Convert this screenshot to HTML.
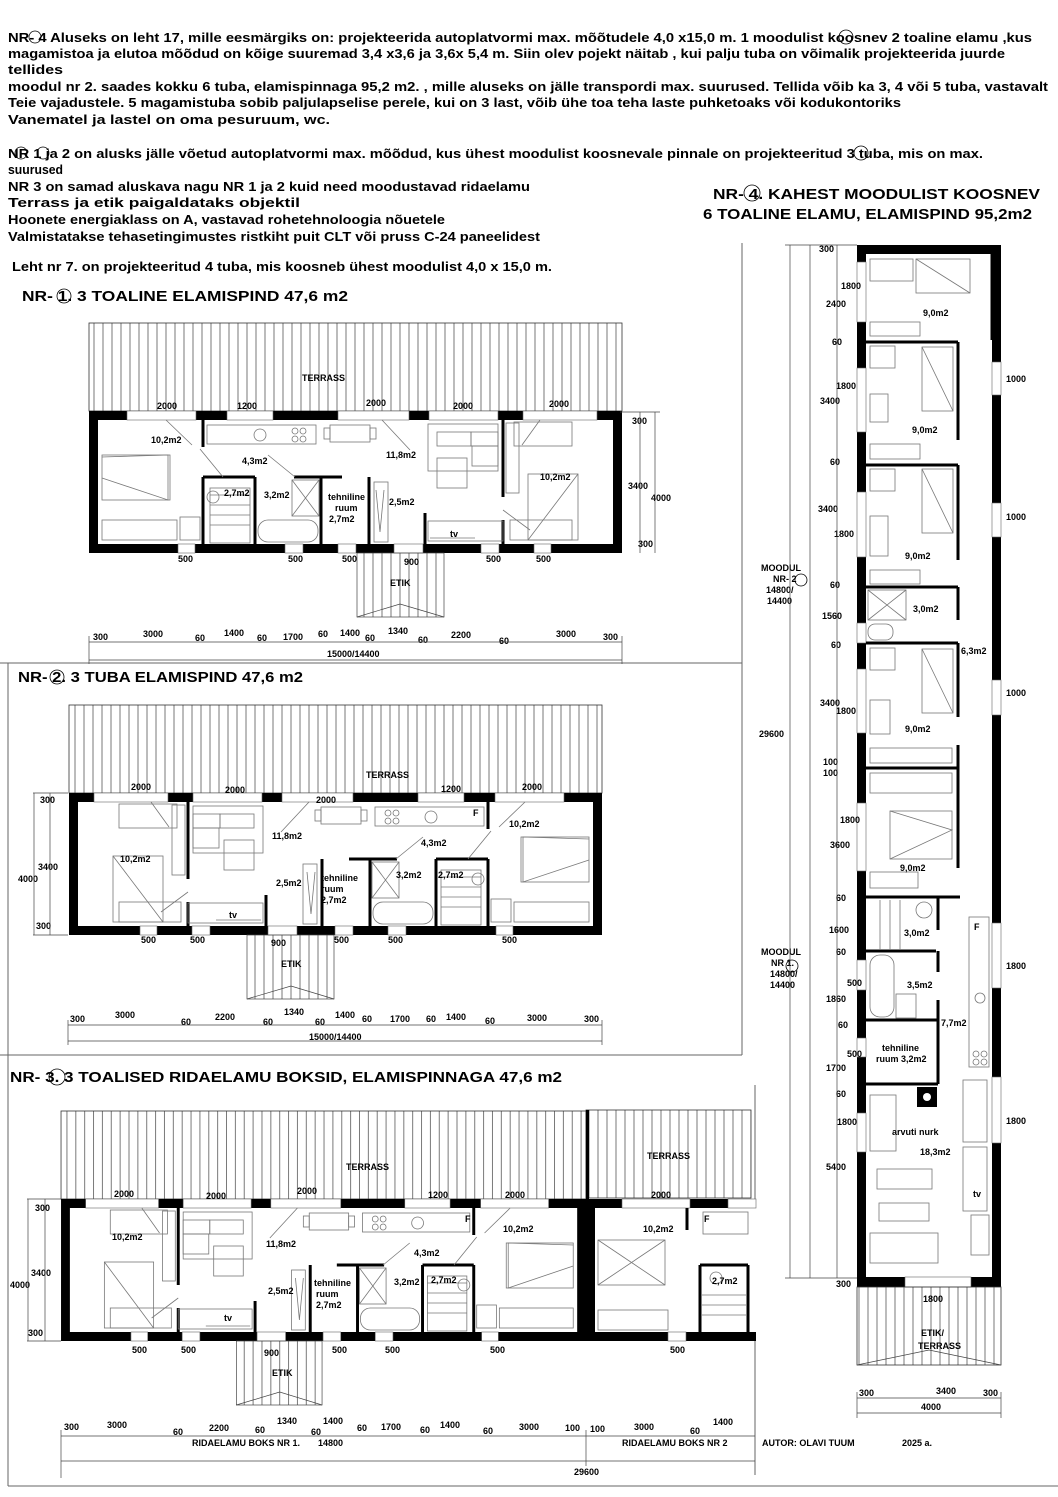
<!DOCTYPE html>
<html><head><meta charset="utf-8"><style>
html,body{margin:0;padding:0;background:#fff;}
svg{display:block;}
text{font-family:"Liberation Sans",Arial,sans-serif;font-weight:bold;fill:#000;}
.s{font-size:9px;}
.t{font-size:13px;}
.h{font-size:15px;}
.f{fill:none;stroke:#777;stroke-width:0.8;}
.w{fill:#000;}
.dl{stroke:#444;stroke-width:0.7;fill:none;}
</style></head><body>
<svg width="1058" height="1497" viewBox="0 0 1058 1497" xmlns="http://www.w3.org/2000/svg">
<defs>
<pattern id="hatch" width="9" height="10" patternUnits="userSpaceOnUse">
<line x1="4" y1="0" x2="4" y2="10" stroke="#555" stroke-width="0.8"/>
</pattern>
<g id="p1">
 <rect x="89" y="323" width="533" height="88" fill="url(#hatch)" stroke="#333" stroke-width="0.8"/>
 <rect x="89" y="411" width="533" height="142" class="w"/>
 <rect x="98" y="420" width="515" height="124" fill="#fff"/>
 <g fill="#fff" stroke="#666" stroke-width="0.6">
  <rect x="127" y="411" width="69" height="9"/><rect x="227" y="411" width="46" height="9"/>
  <rect x="338" y="411" width="71" height="9"/><rect x="429" y="411" width="69" height="9"/>
  <rect x="523" y="411" width="74" height="9"/>
  <rect x="178" y="544" width="17" height="9"/><rect x="285" y="544" width="18" height="9"/>
  <rect x="338" y="544" width="18" height="9"/><rect x="394" y="544" width="29" height="9"/>
  <rect x="481" y="544" width="18" height="9"/><rect x="534" y="544" width="17" height="9"/>
 </g>
 <g stroke="#000" stroke-width="3">
  <line x1="203" y1="420" x2="203" y2="447"/><line x1="203" y1="477" x2="203" y2="544"/>
  <line x1="203" y1="477" x2="255" y2="477"/><line x1="294" y1="477" x2="342" y2="477"/>
  <line x1="255" y1="477" x2="255" y2="544"/><line x1="321" y1="477" x2="321" y2="544"/>
  <line x1="369" y1="477" x2="369" y2="544"/><line x1="425" y1="513" x2="425" y2="544"/>
  <line x1="503" y1="420" x2="503" y2="497"/><line x1="503" y1="520" x2="503" y2="544"/>
 </g>
 <g class="f">
  <rect x="207" y="425" width="109" height="19"/><circle cx="260" cy="435" r="6"/>
  <circle cx="295" cy="431" r="3"/><circle cx="303" cy="431" r="3"/><circle cx="295" cy="439" r="3"/><circle cx="303" cy="439" r="3"/>
  <rect x="330" y="425" width="40" height="17"/><rect x="324" y="428" width="6" height="11"/><rect x="370" y="428" width="6" height="11"/>
  <rect x="428" y="424" width="70" height="47"/><rect x="437" y="432" width="34" height="14"/><rect x="471" y="432" width="27" height="14"/>
  <rect x="437" y="458" width="30" height="30"/><rect x="472" y="446" width="26" height="20"/>
  <rect x="102" y="455" width="68" height="45"/><polyline points="102,457 168,455 168,500 102,478"/>
  <rect x="102" y="520" width="75" height="20"/><rect x="180" y="517" width="20" height="23"/>
  <rect x="210" y="488" width="40" height="55"/>
  <line x1="210" y1="495" x2="250" y2="495"/><line x1="210" y1="505" x2="250" y2="505"/><line x1="210" y1="515" x2="250" y2="515"/><line x1="210" y1="525" x2="250" y2="525"/>
  <rect x="258" y="520" width="60" height="22" rx="10"/><rect x="292" y="480" width="27" height="36"/>
  <line x1="292" y1="480" x2="319" y2="516"/><line x1="319" y1="480" x2="292" y2="516"/>
  <rect x="374" y="482" width="14" height="60"/><path d="M376,490 l4,42 l4,-42" />
  <rect x="428" y="521" width="75" height="20"/><line x1="430" y1="538" x2="475" y2="538"/>
  <rect x="506" y="423" width="13" height="70"/><rect x="514" y="422" width="58" height="24"/>
  <rect x="528" y="474" width="50" height="66"/><line x1="528" y1="540" x2="578" y2="474"/>
  <rect x="510" y="520" width="62" height="20"/>
  <circle cx="213" cy="497" r="6"/>
 </g>
 <g class="f"><line x1="166" y1="420" x2="192" y2="445"/><line x1="200" y1="449" x2="223" y2="477"/><line x1="268" y1="455" x2="295" y2="477"/><line x1="382" y1="420" x2="410" y2="450"/><line x1="522" y1="445" x2="540" y2="420"/><line x1="503" y1="510" x2="530" y2="530"/></g>
 <rect x="357" y="553" width="87" height="64" fill="url(#hatch)" stroke="#444" stroke-width="0.7"/>
 <polyline points="357,617 400,604 444,617" fill="none" stroke="#444" stroke-width="0.7"/>
</g>
</defs>

<g stroke="#666" stroke-width="1" fill="none">
 <line x1="742" y1="243" x2="742" y2="663"/>
 <line x1="0" y1="663" x2="742" y2="663"/>
 <line x1="8" y1="663" x2="8" y2="1486"/>
 <line x1="742" y1="663" x2="742" y2="1055"/>
 <line x1="0" y1="1055" x2="742" y2="1055"/>
 <line x1="8" y1="1486" x2="1058" y2="1486"/>
 <line x1="755" y1="1085" x2="755" y2="1475"/>
</g>

<g class="t">
<text x="8" y="42" textLength="1024" lengthAdjust="spacingAndGlyphs">NR- 4 Aluseks on leht 17, mille eesmärgiks on: projekteerida autoplatvormi max. mõõtudele 4,0 x15,0 m.  1 moodulist koosnev 2 toaline  elamu ,kus</text>
<text x="8" y="58" textLength="997" lengthAdjust="spacingAndGlyphs">magamistoa ja elutoa mõõdud on kõige suuremad 3,4 x3,6 ja 3,6x 5,4 m. Siin olev pojekt  näitab , kui palju tuba on võimalik projekteerida juurde</text>
<text x="8" y="74" textLength="55" lengthAdjust="spacingAndGlyphs">tellides</text>
<text x="8" y="91" textLength="1040" lengthAdjust="spacingAndGlyphs">moodul nr 2. saades kokku 6 tuba, elamispinnaga 95,2 m2. , mille aluseks on jälle transpordi max. suurused. Tellida võib ka 3, 4 või 5 tuba, vastavalt</text>
<text x="8" y="107" textLength="893" lengthAdjust="spacingAndGlyphs">Teie vajadustele.  5 magamistuba sobib paljulapselise perele, kui on 3 last, võib ühe toa teha laste puhketoaks või kodukontoriks</text>
<text x="8" y="124" textLength="322" lengthAdjust="spacingAndGlyphs">Vanematel ja lastel on oma pesuruum, wc.</text>
<text x="8" y="158" textLength="975" lengthAdjust="spacingAndGlyphs">NR 1 ja 2 on alusks jälle võetud  autoplatvormi max. mõõdud, kus ühest moodulist koosnevale pinnale on projekteeritud 3 tuba, mis on max.</text>
<text x="8" y="174" textLength="55" lengthAdjust="spacingAndGlyphs">suurused</text>
<text x="8" y="191" textLength="522" lengthAdjust="spacingAndGlyphs">NR 3 on samad aluskava nagu NR 1 ja 2 kuid need moodustavad ridaelamu</text>
<text x="8" y="207" textLength="292" lengthAdjust="spacingAndGlyphs">Terrass ja etik paigaldataks objektil</text>
<text x="8" y="224" textLength="437" lengthAdjust="spacingAndGlyphs">Hoonete energiaklass on A, vastavad rohetehnoloogia nõuetele</text>
<text x="8" y="241" textLength="532" lengthAdjust="spacingAndGlyphs">Valmistatakse tehasetingimustes ristkiht puit CLT või pruss C-24 paneelidest</text>
<text x="12" y="271" textLength="540" lengthAdjust="spacingAndGlyphs">Leht nr 7. on projekteeritud 4 tuba, mis koosneb ühest moodulist 4,0 x 15,0 m.</text>
</g>
<g fill="none" stroke="#000" stroke-width="0.8">
 <circle cx="35" cy="37" r="6"/><circle cx="846" cy="37" r="7"/>
 <circle cx="21" cy="153" r="6"/><circle cx="43" cy="153" r="6"/><circle cx="861" cy="153" r="7"/>
 <circle cx="64" cy="296" r="7"/><circle cx="57" cy="677" r="7"/><circle cx="57" cy="1077" r="8"/>
 <circle cx="752" cy="193" r="8"/><circle cx="801" cy="580" r="6"/><circle cx="792" cy="966" r="6"/>
</g>
<g class="h">
<text x="713" y="199" textLength="327" lengthAdjust="spacingAndGlyphs">NR- 4.  KAHEST MOODULIST KOOSNEV</text>
<text x="703" y="219" textLength="329" lengthAdjust="spacingAndGlyphs">6 TOALINE ELAMU, ELAMISPIND 95,2m2</text>
<text x="22" y="301" textLength="326" lengthAdjust="spacingAndGlyphs">NR- 1.  3 TOALINE ELAMISPIND 47,6 m2</text>
<text x="18" y="682" textLength="285" lengthAdjust="spacingAndGlyphs">NR- 2.  3 TUBA ELAMISPIND 47,6 m2</text>
<text x="10" y="1082" textLength="552" lengthAdjust="spacingAndGlyphs">NR- 3.   3 TOALISED RIDAELAMU BOKSID, ELAMISPINNAGA 47,6 m2</text>
</g>

<use href="#p1"/>
<g class="s">
<text x="302" y="381">TERRASS</text>
<text x="157" y="409">2000</text><text x="237" y="409">1200</text><text x="366" y="406">2000</text><text x="453" y="409">2000</text><text x="549" y="407">2000</text>
<text x="151" y="443">10,2m2</text><text x="242" y="464">4,3m2</text><text x="386" y="458">11,8m2</text><text x="540" y="480">10,2m2</text>
<text x="224" y="496">2,7m2</text><text x="264" y="498">3,2m2</text><text x="328" y="500">tehniline</text><text x="335" y="511">ruum</text><text x="329" y="522">2,7m2</text>
<text x="389" y="505">2,5m2</text><text x="450" y="537">tv</text><text x="213" y="418">F</text>
<text x="178" y="562">500</text><text x="288" y="562">500</text><text x="342" y="562">500</text><text x="404" y="565">900</text><text x="486" y="562">500</text><text x="536" y="562">500</text>
<text x="390" y="586">ETIK</text>
<text x="632" y="424">300</text><text x="628" y="489">3400</text><text x="651" y="501">4000</text><text x="638" y="547">300</text>
<text x="93" y="640">300</text><text x="143" y="637">3000</text><text x="195" y="641">60</text><text x="224" y="636">1400</text><text x="257" y="641">60</text><text x="283" y="640">1700</text><text x="318" y="637">60</text><text x="340" y="636">1400</text><text x="365" y="641">60</text><text x="388" y="634">1340</text><text x="418" y="643">60</text><text x="451" y="638">2200</text><text x="499" y="644">60</text><text x="556" y="637">3000</text><text x="603" y="640">300</text>
<text x="327" y="657">15000/14400</text>
</g>
<g class="dl"><line x1="89" y1="642" x2="622" y2="642"/><line x1="89" y1="660" x2="622" y2="660"/><line x1="89" y1="636" x2="89" y2="664"/><line x1="622" y1="636" x2="622" y2="664"/>
<line x1="620" y1="412" x2="660" y2="412"/><line x1="640" y1="412" x2="640" y2="553"/><line x1="655" y1="412" x2="655" y2="553"/></g>

<use href="#p1" transform="matrix(-1 0 0 1 691 382)"/>
<g class="s">
<text x="366" y="778">TERRASS</text>
<text x="131" y="790">2000</text><text x="225" y="793">2000</text><text x="316" y="803">2000</text><text x="441" y="792">1200</text><text x="522" y="790">2000</text><text x="473" y="816">F</text>
<text x="120" y="862">10,2m2</text><text x="272" y="839">11,8m2</text><text x="421" y="846">4,3m2</text><text x="509" y="827">10,2m2</text>
<text x="276" y="886">2,5m2</text><text x="321" y="881">tehniline</text><text x="321" y="892">ruum</text><text x="321" y="903">2,7m2</text>
<text x="396" y="878">3,2m2</text><text x="438" y="878">2,7m2</text><text x="229" y="918">tv</text>
<text x="141" y="943">500</text><text x="190" y="943">500</text><text x="271" y="946">900</text><text x="334" y="943">500</text><text x="388" y="943">500</text><text x="502" y="943">500</text>
<text x="281" y="967">ETIK</text>
<text x="40" y="803">300</text><text x="38" y="870">3400</text><text x="18" y="882">4000</text><text x="36" y="929">300</text>
<text x="70" y="1022">300</text><text x="115" y="1018">3000</text><text x="181" y="1025">60</text><text x="215" y="1020">2200</text><text x="263" y="1025">60</text><text x="284" y="1015">1340</text><text x="315" y="1025">60</text><text x="335" y="1018">1400</text><text x="362" y="1022">60</text><text x="390" y="1022">1700</text><text x="426" y="1022">60</text><text x="446" y="1020">1400</text><text x="485" y="1024">60</text><text x="527" y="1021">3000</text><text x="584" y="1022">300</text>
<text x="309" y="1040">15000/14400</text>
</g>
<g class="dl"><line x1="68" y1="1025" x2="602" y2="1025"/><line x1="68" y1="1041" x2="602" y2="1041"/><line x1="68" y1="1020" x2="68" y2="1045"/><line x1="602" y1="1020" x2="602" y2="1045"/>
<line x1="33" y1="793" x2="68" y2="793"/><line x1="33" y1="935" x2="68" y2="935"/><line x1="34" y1="793" x2="34" y2="935"/><line x1="50" y1="793" x2="50" y2="935"/></g>

<use href="#p1" transform="matrix(-0.985 0 0 1 673.7 788)"/>
<rect x="586" y="1110" width="165" height="88" fill="url(#hatch)" stroke="#333" stroke-width="0.8"/>
<rect x="586" y="1199" width="170" height="142" class="w"/>
<rect x="595" y="1208" width="161" height="124" fill="#fff"/>
<rect x="740" y="1208" width="16" height="124" fill="#fff"/>
<rect x="586" y="1110" width="3" height="231" class="w"/>
<g fill="#fff" stroke="#666" stroke-width="0.6"><rect x="622" y="1199" width="68" height="9"/><rect x="728" y="1199" width="28" height="9"/><rect x="668" y="1332" width="18" height="9"/></g>
<g stroke="#000" stroke-width="3"><line x1="687" y1="1208" x2="687" y2="1230"/><line x1="700" y1="1265" x2="748" y2="1265"/><line x1="700" y1="1265" x2="700" y2="1332"/><line x1="748" y1="1265" x2="748" y2="1332"/></g>
<g class="f"><rect x="598" y="1240" width="67" height="45"/><line x1="598" y1="1240" x2="665" y2="1285"/><line x1="665" y1="1240" x2="598" y2="1285"/><rect x="598" y="1310" width="70" height="20"/><rect x="703" y="1212" width="45" height="22"/><circle cx="716" cy="1278" r="6"/><line x1="702" y1="1295" x2="746" y2="1295"/><line x1="702" y1="1305" x2="746" y2="1305"/><line x1="702" y1="1315" x2="746" y2="1315"/></g>
<g class="s">
<text x="346" y="1170">TERRASS</text><text x="647" y="1159">TERRASS</text>
<text x="114" y="1197">2000</text><text x="206" y="1199">2000</text><text x="297" y="1194">2000</text><text x="428" y="1198">1200</text><text x="505" y="1198">2000</text><text x="651" y="1198">2000</text>
<text x="465" y="1222">F</text><text x="704" y="1222">F</text>
<text x="112" y="1240">10,2m2</text><text x="266" y="1247">11,8m2</text><text x="414" y="1256">4,3m2</text><text x="503" y="1232">10,2m2</text><text x="643" y="1232">10,2m2</text>
<text x="268" y="1294">2,5m2</text><text x="314" y="1286">tehniline</text><text x="316" y="1297">ruum</text><text x="316" y="1308">2,7m2</text>
<text x="394" y="1285">3,2m2</text><text x="431" y="1283">2,7m2</text><text x="712" y="1284">2,7m2</text><text x="224" y="1321">tv</text>
<text x="132" y="1353">500</text><text x="181" y="1353">500</text><text x="264" y="1356">900</text><text x="332" y="1353">500</text><text x="385" y="1353">500</text><text x="490" y="1353">500</text><text x="670" y="1353">500</text>
<text x="272" y="1376">ETIK</text>
<text x="35" y="1211">300</text><text x="31" y="1276">3400</text><text x="10" y="1288">4000</text><text x="28" y="1336">300</text>
<text x="64" y="1430">300</text><text x="107" y="1428">3000</text><text x="173" y="1435">60</text><text x="209" y="1431">2200</text><text x="255" y="1433">60</text><text x="277" y="1424">1340</text><text x="311" y="1435">60</text><text x="323" y="1424">1400</text><text x="357" y="1431">60</text><text x="381" y="1430">1700</text><text x="420" y="1433">60</text><text x="440" y="1428">1400</text><text x="483" y="1434">60</text><text x="519" y="1430">3000</text><text x="565" y="1431">100</text><text x="590" y="1432">100</text><text x="634" y="1430">3000</text><text x="690" y="1434">60</text><text x="713" y="1425">1400</text>
<text x="192" y="1446">RIDAELAMU BOKS NR 1.</text><text x="318" y="1446">14800</text>
<text x="622" y="1446">RIDAELAMU BOKS  NR 2</text>
<text x="762" y="1446">AUTOR:  OLAVI   TUUM</text><text x="902" y="1446">2025 a.</text>
<text x="574" y="1475">29600</text>
</g>
<g class="dl"><line x1="61" y1="1436" x2="755" y2="1436"/><line x1="61" y1="1461" x2="755" y2="1461"/><line x1="61" y1="1430" x2="61" y2="1478"/><line x1="586" y1="1430" x2="586" y2="1466"/>
<line x1="27" y1="1199" x2="61" y2="1199"/><line x1="27" y1="1341" x2="61" y2="1341"/><line x1="28" y1="1199" x2="28" y2="1341"/><line x1="45" y1="1199" x2="45" y2="1341"/></g>

<rect x="857" y="245" width="144" height="1042" class="w"/>
<rect x="866" y="254" width="126" height="1023" fill="#fff"/>
<g fill="#fff" stroke="#666" stroke-width="0.6">
 <rect x="857" y="262" width="9" height="60"/><rect x="857" y="368" width="9" height="64"/><rect x="857" y="492" width="9" height="65"/>
 <rect x="857" y="623" width="9" height="20"/><rect x="857" y="669" width="9" height="64"/><rect x="857" y="803" width="9" height="68"/>
 <rect x="857" y="960" width="9" height="30"/><rect x="857" y="1038" width="9" height="19"/><rect x="857" y="1113" width="9" height="39"/>
 <rect x="992" y="362" width="9" height="33"/><rect x="992" y="503" width="9" height="34"/><rect x="992" y="680" width="9" height="35"/>
 <rect x="992" y="923" width="9" height="65"/><rect x="992" y="1077" width="9" height="66"/>
 <rect x="905" y="1277" width="66" height="10"/>
</g>
<g stroke="#000" stroke-width="3">
 <line x1="866" y1="342" x2="958" y2="342"/><line x1="866" y1="465" x2="958" y2="465"/><line x1="866" y1="587" x2="958" y2="587"/>
 <line x1="866" y1="643" x2="958" y2="643"/><line x1="866" y1="768" x2="958" y2="768"/><line x1="866" y1="897" x2="960" y2="897"/>
 <line x1="866" y1="951" x2="936" y2="951"/><line x1="866" y1="1020" x2="938" y2="1020"/><line x1="866" y1="1084" x2="938" y2="1084"/>
 <line x1="958" y1="342" x2="958" y2="440"/><line x1="958" y1="465" x2="958" y2="560"/><line x1="958" y1="587" x2="958" y2="620"/>
 <line x1="958" y1="643" x2="958" y2="717"/><line x1="958" y1="745" x2="958" y2="768"/><line x1="958" y1="768" x2="958" y2="868"/>
 <line x1="938" y1="897" x2="938" y2="930"/><line x1="938" y1="951" x2="938" y2="972"/><line x1="938" y1="1000" x2="938" y2="1084"/>
 <line x1="992" y1="254" x2="992" y2="340"/>
</g>
<g class="f">
 <rect x="870" y="259" width="43" height="22"/><rect x="916" y="259" width="54" height="34"/><line x1="916" y1="259" x2="970" y2="293"/>
 <rect x="870" y="322" width="50" height="14"/>
 <rect x="870" y="346" width="25" height="22"/><rect x="922" y="347" width="31" height="64"/><line x1="922" y1="347" x2="953" y2="411"/><rect x="870" y="394" width="18" height="28"/><rect x="870" y="444" width="50" height="15"/>
 <rect x="870" y="469" width="25" height="22"/><rect x="922" y="469" width="31" height="64"/><line x1="922" y1="469" x2="953" y2="533"/><rect x="870" y="516" width="18" height="40"/><rect x="870" y="570" width="50" height="14"/>
 <rect x="868" y="590" width="38" height="30"/><line x1="868" y1="590" x2="906" y2="620"/><line x1="906" y1="590" x2="868" y2="620"/><rect x="868" y="624" width="25" height="16" rx="7"/>
 <rect x="870" y="648" width="25" height="22"/><rect x="922" y="649" width="31" height="64"/><line x1="922" y1="649" x2="953" y2="713"/><rect x="870" y="700" width="20" height="34"/><rect x="870" y="748" width="82" height="15"/>
 <rect x="870" y="773" width="82" height="20"/><rect x="890" y="811" width="62" height="48"/><polyline points="890,811 952,830 890,859"/><rect x="870" y="872" width="48" height="16"/>
 <line x1="880" y1="900" x2="880" y2="950"/><line x1="890" y1="900" x2="890" y2="950"/><line x1="900" y1="900" x2="900" y2="950"/><circle cx="924" cy="910" r="8"/>
 <rect x="870" y="955" width="24" height="62" rx="10"/><rect x="896" y="994" width="20" height="24"/>
 <rect x="969" y="917" width="20" height="150"/><circle cx="980" cy="998" r="5"/><circle cx="976" cy="1054" r="3"/><circle cx="984" cy="1054" r="3"/><circle cx="976" cy="1062" r="3"/><circle cx="984" cy="1062" r="3"/>
 <rect x="870" y="1095" width="26" height="56"/><rect x="963" y="1080" width="24" height="62"/><rect x="963" y="1147" width="24" height="64"/>
 <rect x="877" y="1169" width="55" height="20"/><rect x="879" y="1203" width="50" height="18"/><rect x="870" y="1233" width="68" height="30"/><rect x="971" y="1215" width="18" height="40"/>
</g>
<rect x="917" y="1087" width="20" height="20" class="w"/><circle cx="927" cy="1097" r="4" fill="#fff"/>
<rect x="857" y="1287" width="144" height="78" fill="url(#hatch)" stroke="#333" stroke-width="0.8"/>
<polyline points="857,1365 929,1350 1001,1365" fill="none" stroke="#444" stroke-width="0.7"/>
<g class="s">
 <text x="819" y="252">300</text><text x="841" y="289">1800</text><text x="826" y="307">2400</text><text x="923" y="316">9,0m2</text>
 <text x="832" y="345">60</text><text x="836" y="389">1800</text><text x="820" y="404">3400</text><text x="1006" y="382">1000</text><text x="912" y="433">9,0m2</text>
 <text x="830" y="465">60</text><text x="818" y="512">3400</text><text x="834" y="537">1800</text><text x="1006" y="520">1000</text><text x="905" y="559">9,0m2</text>
 <text x="830" y="588">60</text><text x="822" y="619">1560</text><text x="913" y="612">3,0m2</text><text x="831" y="648">60</text><text x="961" y="654">6,3m2</text>
 <text x="820" y="706">3400</text><text x="836" y="714">1800</text><text x="1006" y="696">1000</text><text x="905" y="732">9,0m2</text>
 <text x="823" y="765">100</text><text x="823" y="776">100</text><text x="840" y="823">1800</text><text x="830" y="848">3600</text><text x="900" y="871">9,0m2</text>
 <text x="836" y="901">60</text><text x="829" y="933">1600</text><text x="904" y="936">3,0m2</text><text x="836" y="955">60</text>
 <text x="847" y="986">500</text><text x="907" y="988">3,5m2</text><text x="826" y="1002">1860</text><text x="941" y="1026">7,7m2</text><text x="838" y="1028">60</text>
 <text x="847" y="1057">500</text><text x="882" y="1051">tehniline</text><text x="876" y="1062">ruum 3,2m2</text><text x="826" y="1071">1700</text><text x="836" y="1097">60</text>
 <text x="837" y="1125">1800</text><text x="892" y="1135">arvuti nurk</text><text x="920" y="1155">18,3m2</text><text x="826" y="1170">5400</text><text x="973" y="1197">tv</text>
 <text x="836" y="1287">300</text><text x="923" y="1302">1800</text><text x="1006" y="969">1800</text><text x="1006" y="1124">1800</text><text x="974" y="930">F</text>
 <text x="921" y="1336">ETIK/</text><text x="918" y="1349">TERRASS</text>
 <text x="859" y="1396">300</text><text x="936" y="1394">3400</text><text x="983" y="1396">300</text><text x="921" y="1410">4000</text>
 <text x="761" y="571">MOODUL</text><text x="773" y="582">NR- 2</text><text x="766" y="593">14800/</text><text x="767" y="604">14400</text>
 <text x="759" y="737">29600</text>
 <text x="761" y="955">MOODUL</text><text x="771" y="966">NR  1.</text><text x="770" y="977">14800/</text><text x="770" y="988">14400</text>
</g>
<g class="dl">
 <line x1="790" y1="245" x2="790" y2="1278"/><line x1="810" y1="245" x2="810" y2="1278"/><line x1="837" y1="245" x2="837" y2="1278"/>
 <line x1="785" y1="245" x2="857" y2="245"/><line x1="785" y1="1278" x2="857" y2="1278"/>
 <line x1="857" y1="1398" x2="1001" y2="1398"/><line x1="857" y1="1413" x2="1001" y2="1413"/><line x1="857" y1="1392" x2="857" y2="1418"/><line x1="1001" y1="1392" x2="1001" y2="1418"/>
</g>
</svg>
</body></html>
